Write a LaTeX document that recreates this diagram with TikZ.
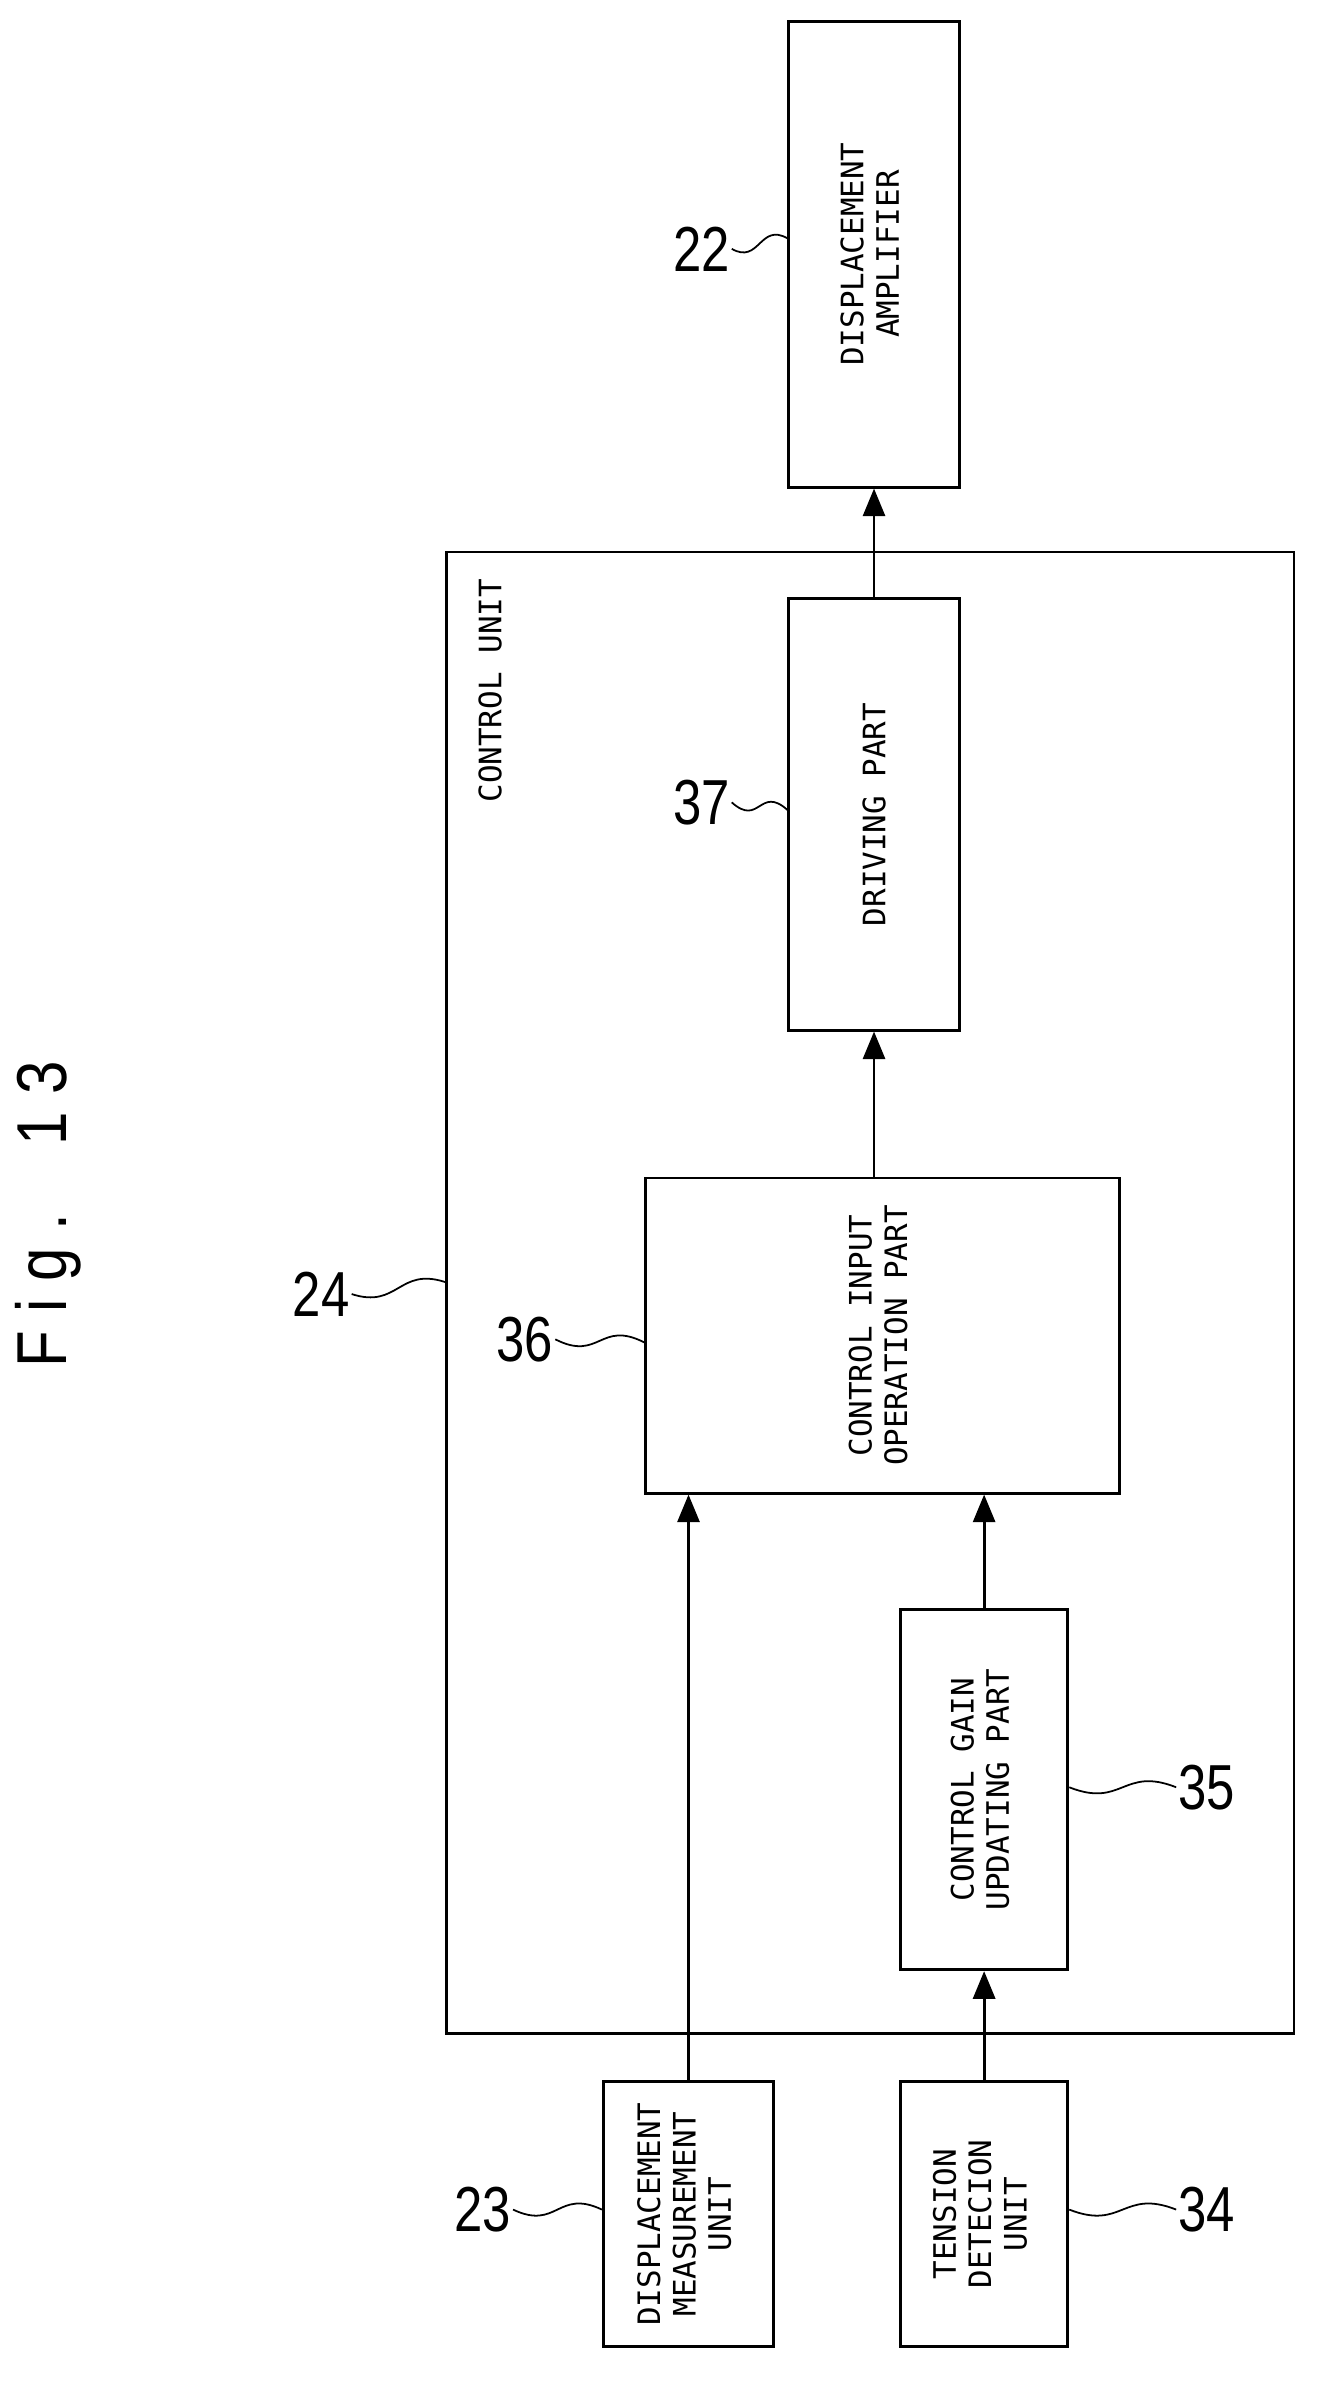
\documentclass[tikz,border=0pt]{standalone}
\usepackage{fontspec}
\usetikzlibrary{arrows.meta,calc}
\newfontfamily\boxf{DejaVu Sans Mono}
\newfontfamily\numf[FakeStretch=0.8]{Liberation Sans}
\newfontfamily\figf[FakeStretch=0.85,LetterSpace=25]{Liberation Sans}
\begin{document}
\begin{tikzpicture}[x=0.3mm,y=-0.3mm,
  box/.style={draw,line width=1.6pt,inner sep=0pt,font=\boxf\fontsize{17.5}{20}\selectfont},
  num/.style={font=\numf\fontsize{36}{40}\selectfont,inner sep=1pt},
  arr/.style={line width=1.6pt,-{Triangle[length=5.5mm,width=4.4mm]}},
  sq/.style={line width=1pt}]
\useasboundingbox (0,0) rectangle (880,1580);
\newcommand\rt[2]{\rotatebox{90}{\begin{tabular}{@{}c@{}}#1\\#2\end{tabular}}}
\node[box,minimum width=33.9mm,minimum height=92.7mm] (amp) at (579.5,168.5) {\rt{DISPLACEMENT}{AMPLIFIER}};
\node[box,minimum width=168.6mm,minimum height=294.6mm] (ctrl) at (577,857) {};
\node[font=\boxf\fontsize{17.5}{20}\selectfont,rotate=90] (cu) at (325,458) {CONTROL UNIT};
\node[box,minimum width=33.9mm,minimum height=85.8mm] (drv) at (579.5,540) {\rotatebox{90}{DRIVING PART}};
\node[box,minimum width=94.2mm,minimum height=62.7mm] (cio) at (585,885.5) {\rt{CONTROL INPUT}{OPERATION PART}};
\node[box,minimum width=33.3mm,minimum height=71.7mm] (cgu) at (652.5,1186.5) {\rt{CONTROL GAIN}{UPDATING PART}};
\node[box,minimum width=33.9mm,minimum height=52.8mm] (dmu) at (456.5,1468) {\rotatebox{90}{\begin{tabular}{@{}c@{}}DISPLACEMENT\\MEASUREMENT\\UNIT\end{tabular}}};
\node[box,minimum width=33.3mm,minimum height=52.8mm] (tdu) at (652.5,1468) {\rotatebox{90}{\begin{tabular}{@{}c@{}}TENSION\\DETECION\\UNIT\end{tabular}}};
\draw[arr] (drv.north) -- (amp.south);
\draw[arr] (cio.north -| drv) -- (drv.south);
\draw[arr] (dmu.north) -- (cio.south -| dmu);
\draw[arr] (cgu.north) -- (cio.south -| cgu);
\draw[arr] (tdu.north) -- (cgu.south);
\node[font=\figf\fontsize{40}{44}\selectfont,rotate=90] (fig) at (32,805) {Fig.\ \ 13};
\node[num] (n22) at (465,165) {22};
\node[num] (n37) at (465,532) {37};
\node[num] (n24) at (213,858) {24};
\node[num] (n36) at (348,888) {36};
\node[num] (n35) at (800,1185) {35};
\node[num] (n23) at (320,1465) {23};
\node[num] (n34) at (800,1465) {34};
\newcommand\sqq[2]{\draw[sq] (#1) .. controls ($(#1)!0.5!(#2)+(0,14)$) and ($(#1)!0.5!(#2)+(0,-14)$) .. (#2);}
\coordinate (a22) at (amp.west |- 0,158);
\coordinate (a37) at (drv.west |- 0,537);
\coordinate (a24) at (ctrl.west |- 0,850);
\coordinate (a36) at (cio.west |- 0,890);
\coordinate (a35) at (cgu.east |- 0,1185);
\coordinate (a23) at (dmu.west |- 0,1465);
\coordinate (a34) at (tdu.east |- 0,1465);
\sqq{n22.east}{a22}
\sqq{n37.east}{a37}
\sqq{n24.east}{a24}
\sqq{n36.east}{a36}
\sqq{a35}{n35.west}
\sqq{n23.east}{a23}
\sqq{a34}{n34.west}
\end{tikzpicture}
\end{document}
